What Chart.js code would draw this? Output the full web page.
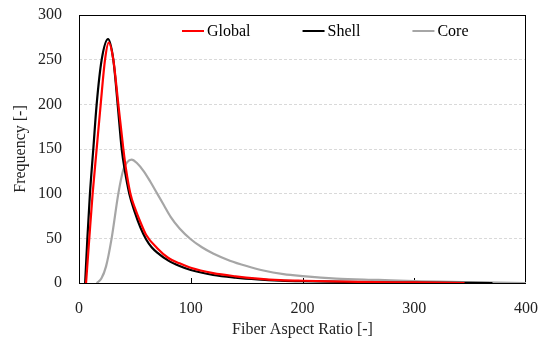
<!DOCTYPE html>
<html>
<head>
<meta charset="utf-8">
<script src="https://cdn.jsdelivr.net/npm/chart.js@4"></script>
<style>
  body { margin: 0; background: #fff; }
  #chart { display: block; }
</style>
</head>
<body>
<canvas id="chart" width="550" height="345"></canvas>
<script>
// curve points (x = aspect ratio, y = frequency)
const globalX = [6.3, 9.2, 12.2, 15.8, 19.4, 23.3, 26.6, 30.7, 35.2, 39.7, 42, 46, 50, 55, 60, 70, 80, 90, 100, 120, 140, 160, 180, 200, 250, 300, 345];
const globalY = [0, 50, 100, 150, 200, 250, 269, 250, 200, 150, 128, 100, 84, 68, 54, 39, 28, 22, 17, 11, 7.5, 5, 3.3, 2.5, 1.2, 0.6, 0];

const shellX = [5.5, 7.5, 9.8, 12.8, 15.8, 20.3, 26, 30.7, 34.6, 38.2, 41, 45, 50, 55, 60, 65, 70, 80, 90, 100, 120, 140, 160, 180, 200, 250, 300, 370];
const shellY = [0, 50, 100, 150, 200, 250, 273, 250, 200, 150, 126, 100, 79, 62, 49, 40, 34, 25, 19, 14.5, 9, 6, 4, 2.7, 2, 1, 0.5, 0];

const coreX = [15.8, 20, 24.2, 29.2, 35.2, 39.7, 43, 47.1, 52, 58, 64, 70, 76, 82, 90, 100, 110, 120, 135, 150, 165, 183, 200, 230, 268, 300, 350, 400];
const coreY = [0, 5, 18.6, 50, 100, 127, 135, 138, 134, 125, 113, 100, 87, 74, 61, 49, 40, 33, 25, 19, 14, 10, 7.8, 5, 3.4, 2, 1, 0];

const xTicks = [0, 100, 200, 300, 400];
const yTicks = [0, 50, 100, 150, 200, 250, 300];

const FONT = "'Liberation Serif', 'Times New Roman', serif";
const TEXT = "#222";

function toPoints(xs, ys) {
  return xs.map((x, i) => ({ x: x, y: ys[i] }));
}

function lineSet(label, xs, ys, color) {
  return {
    label: label,
    data: toPoints(xs, ys),
    borderColor: color,
    backgroundColor: color,
    borderWidth: 2.2,
    pointRadius: 0,
    fill: false,
    cubicInterpolationMode: "monotone"
  };
}

// box round the plot + small inward ticks on the x axis
const framePlugin = {
  id: "frame",
  beforeDatasetsDraw(chart) {
    const { ctx, chartArea: a, scales } = chart;
    ctx.save();
    ctx.strokeStyle = "#000";
    ctx.lineWidth = 1;
    ctx.strokeRect(a.left + 0.5, a.top + 0.5, a.right - a.left - 1, a.bottom - a.top);
    ctx.beginPath();
    xTicks.slice(1, -1).forEach(v => {
      const px = Math.round(scales.x.getPixelForValue(v)) + 0.5;
      ctx.moveTo(px, a.bottom);
      ctx.lineTo(px, a.bottom - 5);
    });
    ctx.stroke();
    ctx.restore();
  }
};

// legend drawn in a single row inside the plot
const legendPlugin = {
  id: "innerLegend",
  afterDatasetsDraw(chart) {
    const { ctx } = chart;
    let x = 182;
    const y = 31;
    ctx.save();
    ctx.font = "16px " + FONT;
    ctx.textBaseline = "middle";
    ctx.fillStyle = "#000";
    chart.data.datasets.forEach(ds => {
      ctx.strokeStyle = ds.borderColor;
      ctx.lineWidth = 2;
      ctx.beginPath();
      ctx.moveTo(x, y);
      ctx.lineTo(x + 22, y);
      ctx.stroke();
      ctx.fillText(ds.label, x + 25, y + 1);
      x += 25 + ctx.measureText(ds.label).width + 52;
    });
    ctx.restore();
  }
};

const ctx = document.getElementById("chart").getContext("2d");
new Chart(ctx, {
  type: "line",
  data: {
    datasets: [
      lineSet("Global", globalX, globalY, "#ff0000"),
      lineSet("Shell", shellX, shellY, "#000000"),
      lineSet("Core", coreX, coreY, "#a6a6a6")
    ]
  },
  options: {
    responsive: false,
    animation: false,
    layout: { padding: { top: 15, right: 24, left: 0, bottom: 0 } },
    plugins: {
      legend: { display: false },
      tooltip: { enabled: false }
    },
    scales: {
      x: {
        type: "linear",
        min: 0,
        max: 400,
        afterBuildTicks: s => { s.ticks = xTicks.map(v => ({ value: v })); },
        afterFit: s => { s.height = 62; s.paddingLeft = 0; s.paddingRight = 0; },
        ticks: { font: { family: FONT, size: 16 }, color: TEXT, padding: 8 },
        grid: { display: false },
        border: { display: false },
        title: {
          display: true,
          text: "Fiber Aspect Ratio [-]",
          font: { family: FONT, size: 16 },
          color: TEXT,
          padding: { top: 0, bottom: 6 }
        }
      },
      y: {
        min: 0,
        max: 300,
        afterBuildTicks: s => { s.ticks = yTicks.map(v => ({ value: v })); },
        afterFit: s => { s.width = 79; s.paddingTop = 0; s.paddingBottom = 0; },
        ticks: { font: { family: FONT, size: 16 }, color: TEXT, padding: 17 },
        grid: { color: "#d9d9d9", lineWidth: 1, drawTicks: false },
        border: { display: false, dash: [3, 2] },
        title: {
          display: true,
          text: "Frequency [-]",
          font: { family: FONT, size: 16 },
          color: TEXT,
          padding: { top: 11, bottom: 0 }
        }
      }
    }
  },
  plugins: [framePlugin, legendPlugin]
});
</script>
</body>
</html>
